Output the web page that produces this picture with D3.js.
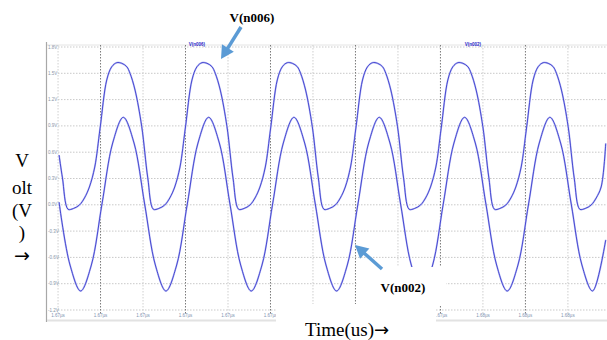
<!DOCTYPE html>
<html>
<head>
<meta charset="utf-8">
<script src="https://cdn.jsdelivr.net/npm/d3@7"></script>
<style>
  body { margin: 0; background: #fff; }
  svg { display: block; }
</style>
</head>
<body>
<div id="chart"></div>
<script>
// time in ns (axis labels show it in µs)
const xTicks = [1670, 1670.5, 1671, 1671.5, 1672, 1672.5, 1673, 1673.5, 1674, 1674.5, 1675, 1675.5, 1676];
const yTicks = [1.8, 1.5, 1.2, 0.9, 0.6, 0.3, 0.0, -0.3, -0.6, -0.9, -1.2];

// V(n006) - upper, clamped trace
const tN006 = [1670.012, 1670.052, 1670.118, 1670.181, 1670.252, 1670.311, 1670.369,
  1670.432, 1670.495, 1670.573, 1670.632, 1670.691, 1670.750, 1670.809, 1670.847, 1670.906, 1670.985,
  1671.056, 1671.122, 1671.185, 1671.256, 1671.315, 1671.373,
  1671.435, 1671.498, 1671.576, 1671.635, 1671.694, 1671.753, 1671.812, 1671.850, 1671.909, 1671.988,
  1672.059, 1672.125, 1672.188, 1672.259, 1672.318, 1672.376,
  1672.439, 1672.502, 1672.580, 1672.639, 1672.698, 1672.757, 1672.816, 1672.854, 1672.913, 1672.992,
  1673.063, 1673.129, 1673.192, 1673.263, 1673.322, 1673.380,
  1673.442, 1673.505, 1673.583, 1673.642, 1673.701, 1673.760, 1673.819, 1673.857, 1673.916, 1673.995,
  1674.066, 1674.132, 1674.195, 1674.266, 1674.325, 1674.383,
  1674.446, 1674.509, 1674.587, 1674.646, 1674.705, 1674.764, 1674.823, 1674.861, 1674.920, 1674.999,
  1675.070, 1675.136, 1675.199, 1675.270, 1675.329, 1675.387,
  1675.450, 1675.513, 1675.591, 1675.650, 1675.709, 1675.768, 1675.827, 1675.865, 1675.924, 1676.003,
  1676.074, 1676.140, 1676.203, 1676.274, 1676.333, 1676.391, 1676.445];
const vN006 = [0.568, 0.306, -0.051, -0.042, -0.002, 0.078, 0.203,
  0.431, 0.876, 1.424, 1.575, 1.621, 1.614, 1.575, 1.500, 1.309, 0.891,
  0.306, -0.051, -0.042, -0.002, 0.078, 0.203,
  0.431, 0.876, 1.424, 1.575, 1.621, 1.614, 1.575, 1.500, 1.309, 0.891,
  0.306, -0.051, -0.042, -0.002, 0.078, 0.203,
  0.431, 0.876, 1.424, 1.575, 1.621, 1.614, 1.575, 1.500, 1.309, 0.891,
  0.306, -0.051, -0.042, -0.002, 0.078, 0.203,
  0.431, 0.876, 1.424, 1.575, 1.621, 1.614, 1.575, 1.500, 1.309, 0.891,
  0.306, -0.051, -0.042, -0.002, 0.078, 0.203,
  0.431, 0.876, 1.424, 1.575, 1.621, 1.614, 1.575, 1.500, 1.309, 0.891,
  0.306, -0.051, -0.042, -0.002, 0.078, 0.203,
  0.431, 0.876, 1.424, 1.575, 1.621, 1.614, 1.575, 1.500, 1.309, 0.891,
  0.306, -0.051, -0.042, -0.002, 0.078, 0.203, 0.700];

// V(n002) - lower sine trace
const tN002 = [1670.012, 1670.141, 1670.266, 1670.392, 1670.517, 1670.643, 1670.768, 1670.894,
  1671.019, 1671.145, 1671.270, 1671.396, 1671.521, 1671.647, 1671.772, 1671.898,
  1672.023, 1672.149, 1672.274, 1672.400, 1672.525, 1672.651, 1672.776, 1672.902,
  1673.027, 1673.153, 1673.278, 1673.404, 1673.529, 1673.655, 1673.780, 1673.906,
  1674.031, 1674.157, 1674.282, 1674.408, 1674.533, 1674.659, 1674.784, 1674.910,
  1675.035, 1675.161, 1675.286, 1675.412, 1675.537, 1675.663, 1675.788, 1675.914,
  1676.039, 1676.165, 1676.290, 1676.445];
const vN002 = [0.030, -0.687, -0.983, -0.687, 0.009, 0.705, 0.998, 0.705,
  0.009, -0.687, -0.983, -0.687, 0.009, 0.705, 0.998, 0.705,
  0.009, -0.687, -0.983, -0.687, 0.009, 0.705, 0.998, 0.705,
  0.009, -0.687, -0.983, -0.687, 0.009, 0.705, 0.998, 0.705,
  0.009, -0.687, -0.983, -0.687, 0.009, 0.705, 0.998, 0.705,
  0.009, -0.687, -0.983, -0.687, 0.009, 0.705, 0.998, 0.705,
  0.009, -0.687, -0.983, -0.400];

function drawArrow(svg, x1, y1, x2, y2) {
    // shaft plus a filled triangular head, tip at (x2, y2)
    const len = Math.hypot(x2 - x1, y2 - y1);
    const ux = (x2 - x1) / len, uy = (y2 - y1) / len;
    const headLen = 13, headHalf = 7;
    const bx = x2 - ux * headLen, by = y2 - uy * headLen;
    svg.append('line')
        .attr('x1', x1).attr('y1', y1)
        .attr('x2', bx + ux).attr('y2', by + uy)
        .attr('stroke', '#5b9bd5')
        .attr('stroke-width', 3.5);
    svg.append('path')
        .attr('d', `M${x2},${y2}L${bx - uy * headHalf},${by + ux * headHalf}L${bx + uy * headHalf},${by - ux * headHalf}Z`)
        .attr('fill', '#5b9bd5');
}

function generateGraph() {
    const width = 607;
    const height = 340;
    const left = 47, right = 607, top = 47, bottom = 310;

    const xScale = d3.scaleLinear()
                        .domain([1669.87, 1676.46])
                        .range([left, right]);
    const yScale = d3.scaleLinear()
                        .domain([-1.2, 1.8])
                        .range([bottom, top]);

    let svg = d3.select('#chart')
                    .append('svg')
                        .attr('width', width)
                        .attr('height', height);

    let plot = svg.append('g');

    // frame: top line, left axis line
    plot.append('line')
        .attr('x1', left).attr('x2', right)
        .attr('y1', 45).attr('y2', 45)
        .attr('stroke', '#e4e4e4');
    plot.append('line')
        .attr('x1', 46.5).attr('x2', 46.5)
        .attr('y1', 42).attr('y2', 322)
        .attr('stroke', '#a8a8a8').attr('stroke-width', 1.2);

    // horizontal grid
    plot.selectAll('.hgrid')
        .data(yTicks)
        .enter()
            .append('line')
                .attr('x1', 58).attr('x2', right)
                .attr('y1', (d) => yScale(d)).attr('y2', (d) => yScale(d))
                .attr('stroke', '#c9c9c9')
                .attr('stroke-dasharray', '1.5,1.5');

    // vertical grid, every other line darker
    plot.selectAll('.vgrid')
        .data(xTicks)
        .enter()
            .append('line')
                .attr('x1', (d) => xScale(d)).attr('x2', (d) => xScale(d))
                .attr('y1', 45).attr('y2', 314)
                .attr('stroke', (d, i) => i % 2 ? '#7a7a7a' : '#cfcfcf')
                .attr('stroke-dasharray', '1.5,1.5');

    // y tick labels
    plot.selectAll('.ylab')
        .data(yTicks)
        .enter()
            .append('text')
                .attr('x', 48)
                .attr('y', (d) => yScale(d) + 1.5)
                .attr('font-family', 'Liberation Sans')
                .attr('font-size', 4.5)
                .attr('fill', '#8895a8')
                .text((d) => d.toFixed(1) + 'V');

    // bottom axis strip
    plot.append('line')
        .attr('x1', left).attr('x2', right)
        .attr('y1', 320.5).attr('y2', 320.5)
        .attr('stroke', '#e2e2e2').attr('stroke-width', 2);
    plot.selectAll('.xlab')
        .data(xTicks)
        .enter()
            .append('text')
                .attr('x', (d) => xScale(d))
                .attr('y', 317)
                .attr('text-anchor', 'middle')
                .attr('font-family', 'Liberation Sans')
                .attr('font-size', 4.5)
                .attr('fill', '#7f93b0')
                .text((d) => (d / 1000).toFixed(2) + 'µs');

    // tiny trace names at top
    [['V(n006)', 197], ['V(n002)', 473]].forEach(([t, x]) => {
        plot.append('text')
            .attr('x', x).attr('y', 45.5)
            .attr('text-anchor', 'middle')
            .attr('font-family', 'Liberation Sans')
            .attr('font-size', 4.5)
            .attr('font-weight', 'bold')
            .attr('fill', '#2626c8')
            .text(t);
    });

    // traces
    const line = d3.line()
                    .x((d) => xScale(d[0]))
                    .y((d) => yScale(d[1]))
                    .curve(d3.curveCatmullRom.alpha(0.5));
    const series = [d3.zip(tN006, vN006), d3.zip(tN002, vN002)];

    series.forEach((s) => {
        plot.append('path')
            .attr('d', line(s))
            .attr('fill', 'none')
            .attr('stroke', '#bcc0f4')
            .attr('stroke-width', 1.8);
        plot.append('path')
            .attr('d', line(s))
            .attr('fill', 'none')
            .attr('stroke', '#2a2ac8')
            .attr('stroke-width', 0.8);
    });

    // white boxes from the pasted labels
    svg.append('rect')
        .attr('x', 358).attr('y', 267)
        .attr('width', 88).attr('height', 38)
        .attr('fill', '#fff');
    svg.append('rect')
        .attr('x', 276).attr('y', 304)
        .attr('width', 160).attr('height', 36)
        .attr('fill', '#fff');

    // annotation labels and arrows
    svg.append('text')
        .attr('x', 252).attr('y', 22)
        .attr('text-anchor', 'middle')
        .attr('font-family', 'Liberation Serif')
        .attr('font-weight', 'bold')
        .attr('font-size', 13)
        .text('V(n006)');
    drawArrow(svg, 241, 27, 221, 59);

    svg.append('text')
        .attr('x', 403).attr('y', 292)
        .attr('text-anchor', 'middle')
        .attr('font-family', 'Liberation Serif')
        .attr('font-weight', 'bold')
        .attr('font-size', 13)
        .text('V(n002)');
    drawArrow(svg, 382, 269, 355, 245);

    // axis titles
    const yTitle = [['V', 167], ['olt', 194], ['(V', 217], [')', 239]];
    yTitle.forEach(([t, y]) => {
        svg.append('text')
            .attr('x', 22).attr('y', y)
            .attr('text-anchor', 'middle')
            .attr('font-family', 'Liberation Serif')
            .attr('font-size', 19)
            .text(t);
    });
    svg.append('text')
        .attr('x', 22).attr('y', 262)
        .attr('text-anchor', 'middle')
        .attr('font-family', 'DejaVu Sans')
        .attr('font-size', 19)
        .text('→');

    let xTitle = svg.append('text')
        .attr('x', 305).attr('y', 336)
        .attr('font-family', 'Liberation Serif')
        .attr('font-size', 19);
    xTitle.append('tspan').text('Time(us)');
    xTitle.append('tspan')
        .attr('font-family', 'DejaVu Sans')
        .attr('font-size', 18)
        .attr('dy', -0.5)
        .text('→');
}

generateGraph();
</script>
</body>
</html>
